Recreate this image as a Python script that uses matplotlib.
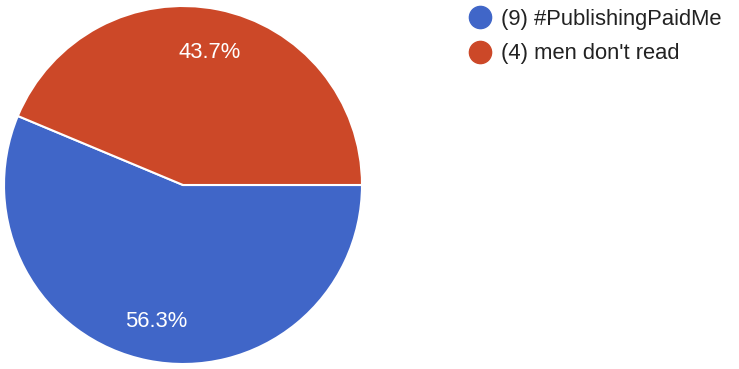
import matplotlib
matplotlib.use("Agg")
import matplotlib.pyplot as plt
from matplotlib.lines import Line2D
from matplotlib.transforms import ScaledTranslation

labels = ["(9) #PublishingPaidMe", "(4) men don't read"]
shares = [56.3, 43.7]
colors = ["#4066c8", "#cc4828"]

plt.rcParams["font.family"] = ["Liberation Sans", "DejaVu Sans"]

fig = plt.figure(figsize=(7.39, 3.69), dpi=100)
ax = fig.add_axes([4 / 739, 5 / 369, 358 / 739, 358 / 369])

wedges, texts, autotexts = ax.pie(
    shares, colors=colors, startangle=0, counterclock=False,
    autopct="%.1f%%", pctdistance=0.765, radius=1,
    wedgeprops=dict(edgecolor="white", linewidth=1.5),
    textprops=dict(color="white", fontsize=15.8))
# nudge labels down a touch so the digits sit where the original has them
for t in autotexts:
    t.set_transform(ax.transData + ScaledTranslation(0, -2 / 100, fig.dpi_scale_trans))
ax.set_xlim(-1, 1)
ax.set_ylim(-1, 1)
ax.set_aspect("equal")
ax.axis("off")

handles = [Line2D([], [], marker="o", linestyle="none", markersize=16,
                  markerfacecolor=c, markeredgecolor=c) for c in colors]
fig.legend(handles, labels, loc="upper left", bbox_to_anchor=(459 / 739, 1 - 0 / 369),
           frameon=False, fontsize=15.8, labelcolor="#222222",
           handletextpad=0.4, labelspacing=0.62, borderaxespad=0, handlelength=1.1)

fig.savefig("out.png", dpi=100)
